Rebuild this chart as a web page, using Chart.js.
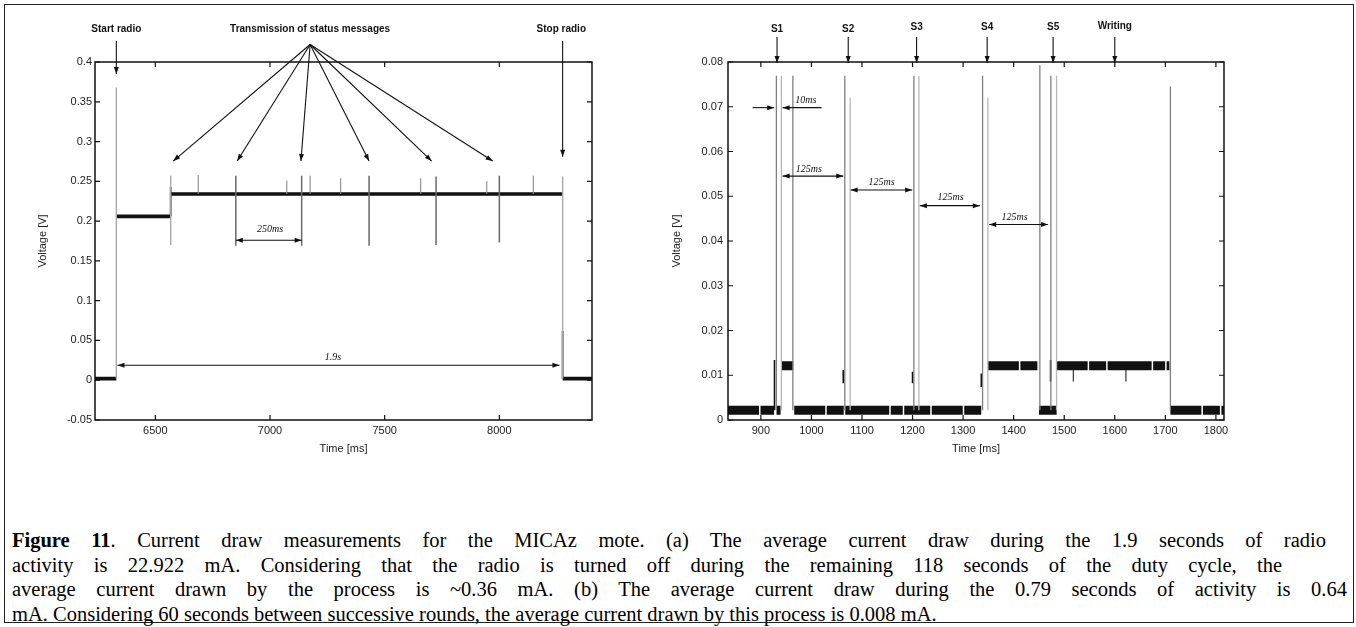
<!DOCTYPE html>
<html>
<head>
<meta charset="utf-8">
<script src="https://cdn.jsdelivr.net/npm/chart.js@4.4.0/dist/chart.umd.min.js"></script>
<style>
  body { margin: 0; background: #fff; width: 1356px; height: 627px; overflow: hidden; position: relative; }
  #frame { position: absolute; left: 4px; top: 4px; width: 1350px; height: 619px; border: 1.5px solid #222; box-sizing: border-box; }
  #chartA { position: absolute; left: 0; top: 0; }
  #chartB { position: absolute; left: 650px; top: 0; }
  #caption { position: absolute; left: 12px; top: 528px; font-family: "Liberation Serif", "Times New Roman", serif; font-size: 20.5px; line-height: 24.6px; color: #000; }
  #caption div { white-space: nowrap; width: fit-content; }
</style>
</head>
<body>
<div id="frame"></div>
<canvas id="chartA" width="650" height="480"></canvas>
<canvas id="chartB" width="706" height="480"></canvas>
<div id="caption">
  <div class="j"><b>Figure 11</b>. Current draw measurements for the MICAz mote. (a) The average current draw during the 1.9 seconds of radio</div>
  <div class="j">activity is 22.922 mA. Considering that the radio is turned off during the remaining 118 seconds of the duty cycle, the</div>
  <div class="j">average current drawn by the process is ~0.36 mA. (b) The average current draw during the 0.79 seconds of activity is 0.64</div>
  <div>mA. Considering 60 seconds between successive rounds, the average current drawn by this process is 0.008 mA.</div>
</div>
<script>
// ---- (a) radio on / off, time in ms, voltage in V ----
const aLevelStart = [6237, 6330, 6567, 8276];
const aLevelEnd   = [6330, 6567, 8276, 8404];
const aLevelValue = [0.002, 0.206, 0.234, 0.002];

const aEdgeTimes = [6330, 6567, 8276];
const aEdgeLow   = [0.002, 0.170, 0.002];
const aEdgeHigh  = [0.368, 0.257, 0.256];

const aDarkTimes = [6567, 8276];
const aDarkLow   = [0.206, 0.002];
const aDarkHigh  = [0.243, 0.062];

const aTxTimes = [6851, 7138, 7432, 7724, 8000];
const aTxLow   = [0.169, 0.169, 0.169, 0.170, 0.173];
const aTxHigh  = [0.257, 0.257, 0.257, 0.256, 0.257];

const aBlipTimes = [6687, 7073, 7175, 7308, 7657, 7945, 8148];
const aBlipHigh  = [0.258, 0.251, 0.257, 0.254, 0.254, 0.250, 0.257];

const aXTicks = [6500, 7000, 7500, 8000];
const aYTicks = [-0.05, 0, 0.05, 0.1, 0.15, 0.2, 0.25, 0.3, 0.35, 0.4];

// ---- (b) sampling rounds ----
const bLowStart  = [835, 931, 966, 1450, 1710];
const bLowEnd    = [926, 939, 1336, 1485, 1816];
const bHighStart = [941, 1349, 1485];
const bHighEnd   = [964, 1450, 1708];
const bLowLevel  = 0.0022;
const bHighLevel = 0.0121;

const bSpikeTimes = [930.7, 963.3, 1066, 1202.6, 1338.5, 1451.8, 1473.6, 1710];
const bSpikeHigh  = [0.0769, 0.0769, 0.0769, 0.0769, 0.0769, 0.0793, 0.0769, 0.0745];
const bFaintTimes = [940.6, 1076.6, 1212.5, 1349, 1484.8];
const bFaintHigh  = [0.0769, 0.0720, 0.0769, 0.0720, 0.0769];

const bStepTimes = [927, 1063, 1200, 1336, 1473];
const bStepLow   = [0.0022, 0.0082, 0.0082, 0.0074, 0.0086];
const bStepHigh  = [0.0134, 0.0112, 0.0108, 0.0104, 0.0134];
const bDipTimes  = [1518, 1622];
const bDipLow    = [0.0086, 0.0086];

const bXTicks = [900, 1000, 1100, 1200, 1300, 1400, 1500, 1600, 1700, 1800];
const bYTicks = [0, 0.01, 0.02, 0.03, 0.04, 0.05, 0.06, 0.07, 0.08];

// ---- annotations, in data units: [x0, y0, x1, y1, headStart, headEnd] ----
const aArrows = [
  [6330, 0.4264, 6330, 0.385, 0, 1],
  [8276, 0.4264, 8276, 0.281, 0, 1],
  [7175, 0.4220, 6578, 0.2755, 0, 1],
  [7175, 0.4220, 6857, 0.2755, 0, 1],
  [7175, 0.4220, 7135, 0.2755, 0, 1],
  [7175, 0.4220, 7432, 0.2755, 0, 1],
  [7175, 0.4220, 7705, 0.2755, 0, 1],
  [7175, 0.4220, 7971, 0.2755, 0, 1],
  [6851, 0.176, 7138, 0.176, 1, 1],
  [6335, 0.0189, 8262, 0.0189, 1, 1]
];
const aLabels = [
  ['Start radio', 6330, 0.4414, 'top'],
  ['Transmission of status messages', 7175, 0.4414, 'top'],
  ['Stop radio', 8270, 0.4414, 'top'],
  ['250ms', 7000, 0.190, 'note'],
  ['1.9s', 7275, 0.029, 'note']
];
const bArrows = [
  [932, 0.0856, 932, 0.0798, 0, 1],
  [1072.8, 0.0856, 1072.8, 0.0798, 0, 1],
  [1208, 0.0856, 1208, 0.0798, 0, 1],
  [1347.6, 0.0856, 1347.6, 0.0798, 0, 1],
  [1478, 0.0856, 1478, 0.0798, 0, 1],
  [1600, 0.0856, 1600, 0.0798, 0, 1],
  [883.6, 0.0698, 926.3, 0.0698, 0, 1],
  [1020, 0.0698, 943, 0.0698, 0, 1],
  [943, 0.0545, 1063, 0.0545, 1, 1],
  [1077.5, 0.0514, 1199.3, 0.0514, 1, 1],
  [1214.5, 0.0479, 1333, 0.0479, 1, 1],
  [1351.6, 0.0437, 1468, 0.0437, 1, 1]
];
const bLabels = [
  ['S1', 932, 0.0874, 'top'],
  ['S2', 1072.8, 0.0874, 'top'],
  ['S3', 1208, 0.0878, 'top'],
  ['S4', 1347.6, 0.0878, 'top'],
  ['S5', 1478, 0.0878, 'top'],
  ['Writing', 1600, 0.0880, 'top'],
  ['10ms', 989, 0.0715, 'note'],
  ['125ms', 995, 0.0560, 'note'],
  ['125ms', 1138.7, 0.0530, 'note'],
  ['125ms', 1275, 0.0497, 'note'],
  ['125ms', 1402, 0.0452, 'note']
];

// caption: first three lines are justified out to these right edges
const captionRightEdges = [1326, 1282, 1347];
document.querySelectorAll('#caption .j').forEach((el, i) => {
  const natural = el.getBoundingClientRect().width;
  const gaps = el.textContent.split(' ').length - 1;
  el.style.wordSpacing = ((captionRightEdges[i] - 12 - natural) / gaps) + 'px';
});

Chart.defaults.font.family = '"Liberation Sans", Arial, sans-serif';
Chart.defaults.color = '#222';

function segs(starts, ends, levels) {
  const pts = [];
  starts.forEach((s, i) => {
    const v = Array.isArray(levels) ? levels[i] : levels;
    pts.push({ x: s, y: v }, { x: ends[i], y: v }, { x: ends[i], y: null });
  });
  return pts;
}

function sticks(times, lows, highs) {
  const pts = [];
  times.forEach((t, i) => {
    const lo = Array.isArray(lows) ? lows[i] : lows;
    const hi = Array.isArray(highs) ? highs[i] : highs;
    pts.push({ x: t, y: lo }, { x: t, y: hi }, { x: t, y: null });
  });
  return pts;
}

function ds(data, color, width, dash) {
  return { data, borderColor: color, borderWidth: width, borderDash: dash || [], pointRadius: 0,
    spanGaps: false, tension: 0, fill: false, borderCapStyle: 'butt' };
}

function drawArrow(ctx, x0, y0, x1, y1, h0, h1) {
  ctx.beginPath();
  ctx.moveTo(x0, y0);
  ctx.lineTo(x1, y1);
  ctx.stroke();
  const head = (px, py, fx, fy) => {
    const ang = Math.atan2(py - fy, px - fx);
    ctx.beginPath();
    ctx.moveTo(px, py);
    ctx.lineTo(px - 7 * Math.cos(ang) + 2.5 * Math.sin(ang), py - 7 * Math.sin(ang) - 2.5 * Math.cos(ang));
    ctx.lineTo(px - 7 * Math.cos(ang) - 2.5 * Math.sin(ang), py - 7 * Math.sin(ang) + 2.5 * Math.cos(ang));
    ctx.closePath();
    ctx.fill();
  };
  if (h1) head(x1, y1, x0, y0);
  if (h0) head(x0, y0, x1, y1);
}

// gnuplot style frame, inward ticks and annotations
const marks = {
  id: 'marks',
  afterDraw(chart, args, opts) {
    const { ctx, chartArea: a, scales: { x, y } } = chart;
    ctx.save();
    ctx.strokeStyle = '#111';
    ctx.fillStyle = '#111';
    ctx.lineWidth = 1.5;
    ctx.strokeRect(a.left, a.top, a.right - a.left, a.bottom - a.top);
    ctx.lineWidth = 1.2;
    ctx.beginPath();
    x.ticks.forEach(t => {
      const px = x.getPixelForValue(t.value);
      ctx.moveTo(px, a.bottom); ctx.lineTo(px, a.bottom - 5);
      ctx.moveTo(px, a.top); ctx.lineTo(px, a.top + 5);
    });
    y.ticks.forEach(t => {
      const py = y.getPixelForValue(t.value);
      ctx.moveTo(a.left, py); ctx.lineTo(a.left + 5, py);
      ctx.moveTo(a.right, py); ctx.lineTo(a.right - 5, py);
    });
    ctx.stroke();
    ctx.lineWidth = 1.1;
    opts.arrows.forEach(r => {
      drawArrow(ctx, x.getPixelForValue(r[0]), y.getPixelForValue(r[1]),
        x.getPixelForValue(r[2]), y.getPixelForValue(r[3]), r[4], r[5]);
    });
    ctx.textAlign = 'center';
    ctx.textBaseline = 'middle';
    opts.labels.forEach(l => {
      ctx.font = l[3] === 'top' ? 'bold 10px "Liberation Sans", Arial, sans-serif'
                                : 'italic 10px "Liberation Serif", "Times New Roman", serif';
      ctx.fillText(l[0], x.getPixelForValue(l[1]), y.getPixelForValue(l[2]));
    });
    ctx.restore();
  }
};

function axes(xMin, xMax, xTicks, yMin, yMax, yTicks, yWidth, yPad) {
  return {
    x: {
      type: 'linear', min: xMin, max: xMax,
      grid: { display: false, drawTicks: false },
      border: { display: false },
      afterBuildTicks: s => { s.ticks = xTicks.map(v => ({ value: v })); },
      afterFit: s => { s.height = 36; },
      ticks: { padding: 4, font: { size: 11 }, maxRotation: 0, callback: v => String(v) },
      title: { display: true, text: 'Time [ms]', font: { size: 11 }, padding: 0, color: '#222' }
    },
    y: {
      min: yMin, max: yMax,
      grid: { display: false, drawTicks: false },
      border: { display: false },
      afterBuildTicks: s => { s.ticks = yTicks.map(v => ({ value: v })); },
      afterFit: s => { s.width = yWidth; },
      ticks: { padding: yPad, font: { size: 11 }, callback: v => String(v) },
      title: { display: true, text: 'Voltage [V]', font: { size: 11 }, padding: 0, color: '#222' }
    }
  };
}

new Chart(document.getElementById('chartA'), {
  type: 'line',
  data: {
    datasets: [
      ds(sticks(aEdgeTimes, aEdgeLow, aEdgeHigh), '#a8a8a8', 1.4),
      ds(sticks(aTxTimes, aTxLow, aTxHigh), '#6a6a6a', 1.5),
      ds(sticks(aBlipTimes, aLevelValue[2], aBlipHigh), '#8a8a8a', 1.1),
      ds(segs(aLevelStart, aLevelEnd, aLevelValue), '#111', 3.6),
      ds(sticks(aDarkTimes, aDarkLow, aDarkHigh), '#333', 1.8)
    ]
  },
  options: {
    responsive: false, animation: false,
    layout: { padding: { left: 36, top: 62, right: 58, bottom: 24 } },
    plugins: { legend: { display: false }, tooltip: { enabled: false },
      marks: { arrows: aArrows, labels: aLabels } },
    scales: axes(6237, 8404, aXTicks, -0.05, 0.4, aYTicks, 59, 3)
  },
  plugins: [marks]
});

// sampled band has small breaks in it
const bandDash = [31, 1.5, 17, 1.5, 44, 1.5, 12, 1.5, 26, 1.5];
new Chart(document.getElementById('chartB'), {
  type: 'line',
  data: {
    datasets: [
      ds(sticks(bSpikeTimes, bLowLevel, bSpikeHigh), '#808080', 1.3),
      ds(sticks(bFaintTimes, bLowLevel, bFaintHigh), '#b8b8b8', 1.3),
      ds(segs(bLowStart, bLowEnd, bLowLevel), '#111', 9, bandDash),
      ds(segs(bHighStart, bHighEnd, bHighLevel), '#111', 9, bandDash),
      ds(sticks(bStepTimes, bStepLow, bStepHigh), '#111', 1.6),
      ds(sticks(bDipTimes, bDipLow, bHighLevel), '#333', 1.2)
    ]
  },
  options: {
    responsive: false, animation: false,
    layout: { padding: { left: 20, top: 62, right: 132, bottom: 24 } },
    plugins: { legend: { display: false }, tooltip: { enabled: false },
      marks: { arrows: bArrows, labels: bLabels } },
    scales: axes(835, 1816, bXTicks, 0, 0.08, bYTicks, 58, 5)
  },
  plugins: [marks]
});
</script>
</body>
</html>
